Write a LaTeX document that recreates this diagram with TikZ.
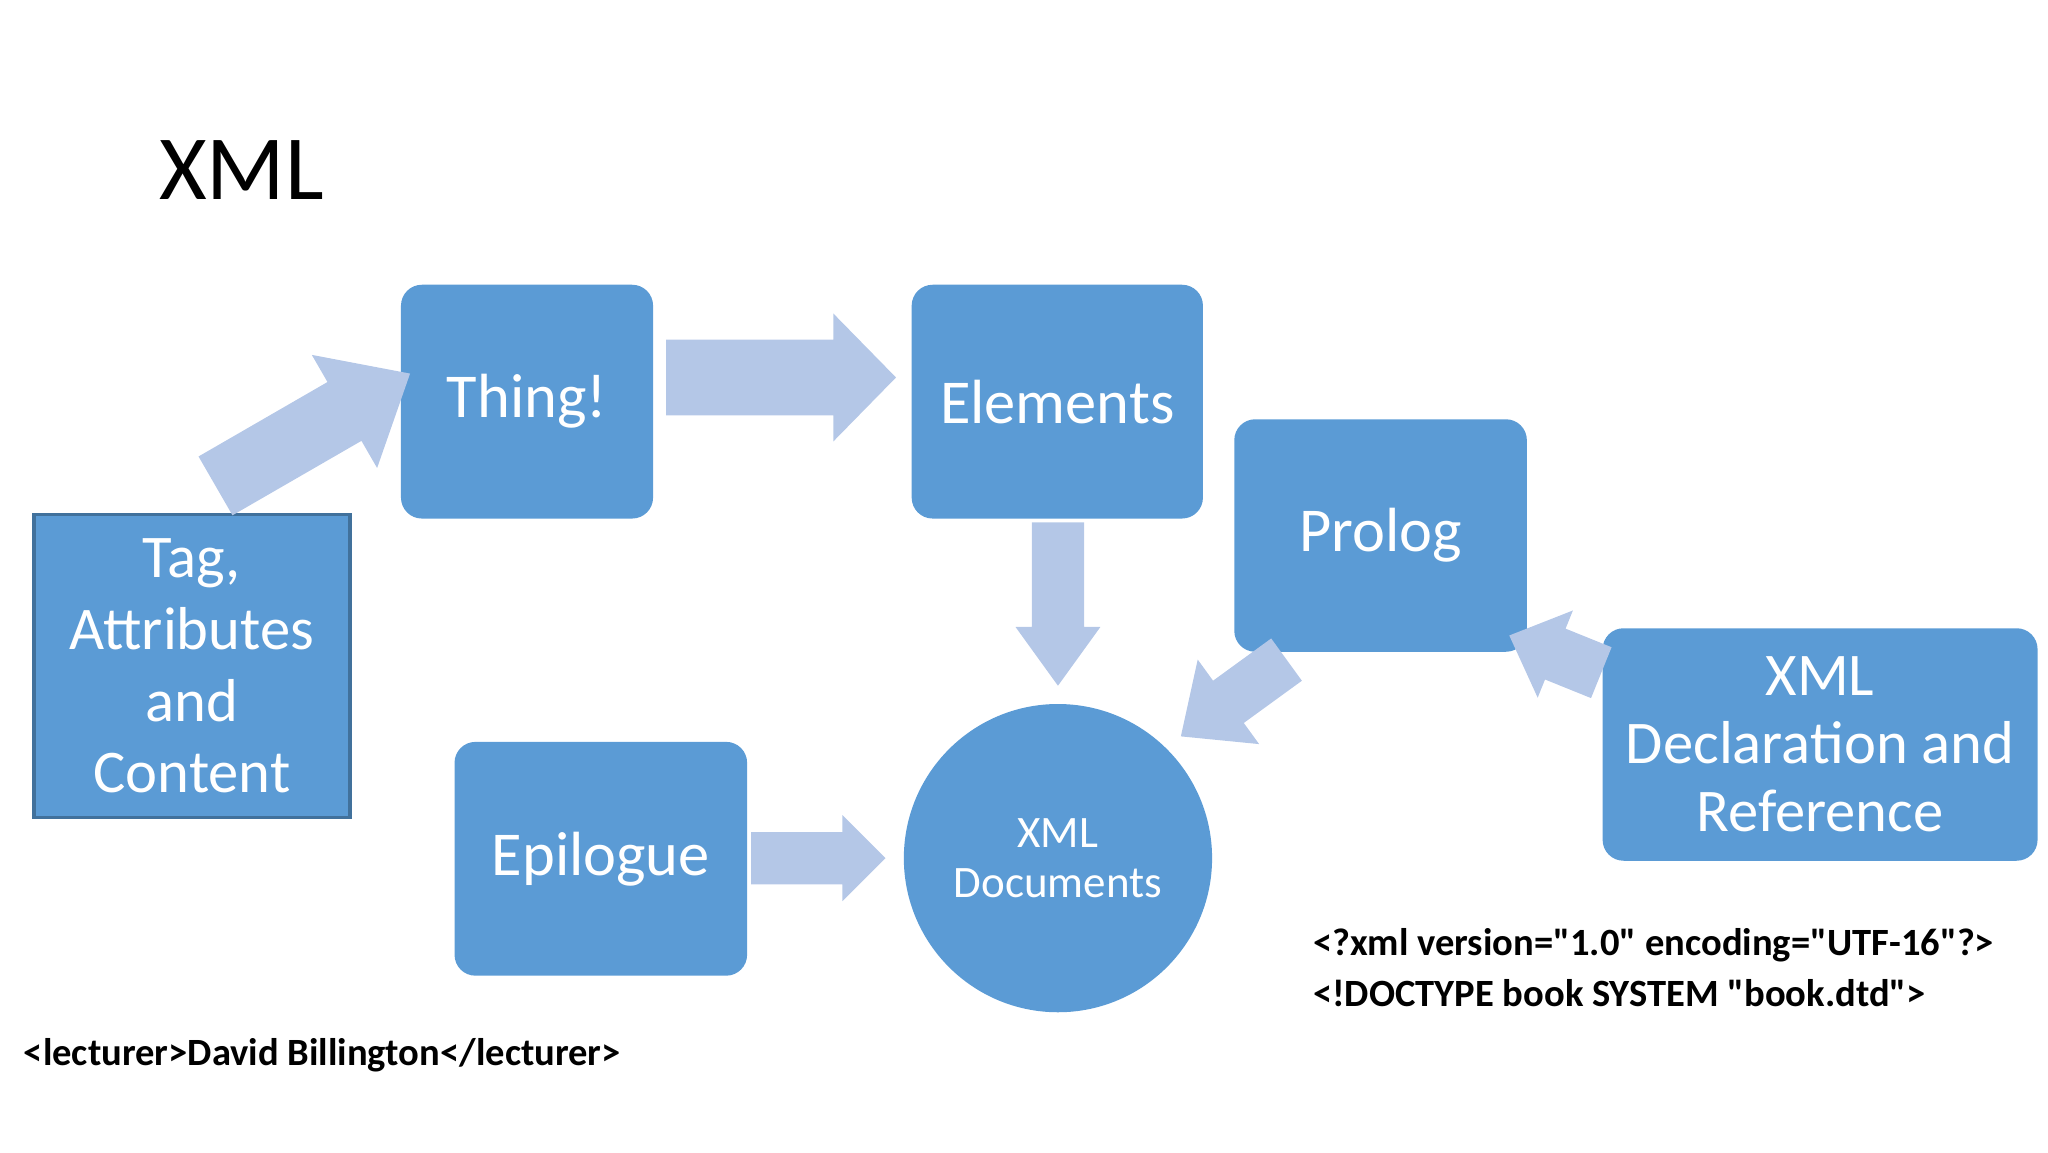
\documentclass[tikz,border=0pt]{standalone}
\usepackage{fontspec}
\setmainfont{Carlito}[Ligatures=TeXOff]
\begin{document}
\begin{tikzpicture}[x=0.25mm,y=-0.25mm,
  boxfill/.style={fill={rgb,255:red,91;green,155;blue,213}},
  rbox/.style={boxfill, rounded corners=4mm, text=white, align=center, inner sep=0pt},
  arrowfill/.style={fill={rgb,255:red,180;green,199;blue,231}},
  code/.style={font=\fontsize{21}{26}\selectfont\bfseries, anchor=west, inner sep=0pt}]
\useasboundingbox (0,0) rectangle (1568,882);
\newcommand{\farrow}[7]{% x y angle length shaft head headlen
  \fill[arrowfill, shift={(#1,#2)}, rotate=#3]
   (0,-#5/2) -- (#4-#7,-#5/2) -- (#4-#7,-#6/2) -- (#4,0) -- (#4-#7,#6/2) -- (#4-#7,#5/2) -- (0,#5/2) -- cycle;}
\node[anchor=west, font=\fontsize{50}{55}\selectfont] (title) at (117,130) {XML};
% boxes
\node[boxfill, draw={rgb,255:red,65;green,113;blue,156}, line width=0.6mm, minimum width=242*0.25mm, minimum height=232*0.25mm, text=white, align=center, inner sep=0pt, font=\fontsize{33}{39}\selectfont] (tag) at (147,510) {Tag,\\Attributes\\and\\Content};
\node[rbox, minimum width=193*0.25mm, minimum height=179*0.25mm, font=\fontsize{34}{40}\selectfont] (thing) at (403.5,307.5) {Thing!};
\node[rbox, minimum width=223*0.25mm, minimum height=179*0.25mm, font=\fontsize{34}{40}\selectfont] (elem) at (809.5,307.5) {Elements};
\node[rbox, minimum width=224*0.25mm, minimum height=178*0.25mm, font=\fontsize{34}{40}\selectfont] (prolog) at (1057,410) {Prolog};
\node[rbox, minimum width=333*0.25mm, minimum height=178*0.25mm, font=\fontsize{33}{37}\selectfont] (decl) at (1393.5,570) {XML\\Declaration and\\Reference};
\node[rbox, minimum width=224*0.25mm, minimum height=179*0.25mm, font=\fontsize{34}{40}\selectfont] (epi) at (460,657.5) {Epilogue};
\node[boxfill, circle, minimum size=236*0.25mm, text=white, align=center, inner sep=0pt, font=\fontsize{24.5}{27}\selectfont] (doc) at (810,657) {XML\\Documents};
% arrows
\farrow{165}{372}{30}{172}{52}{100}{58}
\farrow{510}{289}{0}{176}{58}{98}{48}
\farrow{810}{400}{-90}{125}{40}{65}{45}
\farrow{575}{657}{0}{103}{40}{66}{33}
\farrow{985}{505}{216}{100}{40}{80}{45}
\farrow{1226}{515}{158}{76}{42}{72}{38}
% code text
\node[code] (c1) at (1005,724) {<?xml version="1.0" encoding="UTF-16"?>};
\node[code] (c2) at (1005,760) {<!DOCTYPE book SYSTEM "book.dtd">};
\node[code] (c3) at (18,808) {<lecturer>David Billington</lecturer>};
\end{tikzpicture}
\end{document}
